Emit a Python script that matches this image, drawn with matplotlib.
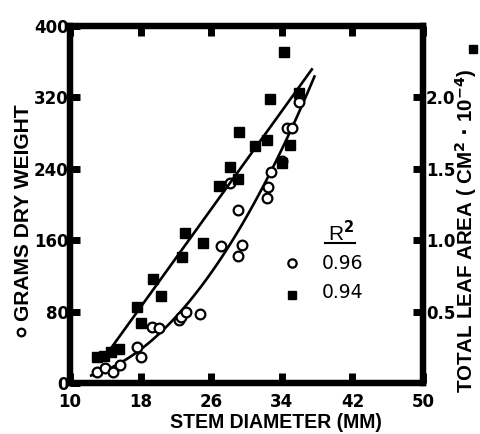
import numpy as np
import matplotlib
matplotlib.use("Agg")
import matplotlib.pyplot as plt

plt.rcParams["font.family"] = ["DejaVu Sans"]
plt.rcParams["font.weight"] = "bold"
LABEL_FONT = ["Liberation Sans Narrow", "Liberation Sans", "DejaVu Sans"]

# === Données ===
# grammes de matière sèche (cercles ouverts, axe gauche)
dw_diam = [13.05, 13.95, 14.86, 15.65, 17.6, 18.1, 19.3, 20.1, 22.3, 22.6, 23.1, 24.7,
           27.1, 28.1, 29.0, 29.0, 29.5, 32.3, 32.4, 32.8, 34.0, 34.6, 35.1, 36.0]
dw_grams = [12, 17, 12, 20, 40, 29, 63, 62, 71, 74, 80, 77,
            153, 224, 142, 194, 155, 207, 220, 236, 249, 286, 286, 315]

# surface foliaire totale (carrés pleins, axe droit, cm2 x 10^-4)
la_diam = [13.05, 13.8, 14.7, 15.5, 17.6, 18.0, 19.4, 20.3, 22.7, 23.0, 25.1, 26.9,
           28.1, 29.0, 29.1, 31.0, 32.3, 32.7, 34.0, 34.3, 34.9, 35.9]
la_area = [0.18, 0.19, 0.22, 0.24, 0.53, 0.42, 0.73, 0.61, 0.88, 1.05, 0.98, 1.38,
           1.51, 1.43, 1.76, 1.66, 1.70, 1.99, 1.54, 2.32, 1.67, 2.03]

r2_dw = "0.96"
r2_la = "0.94"

x_ticks = [10, 18, 26, 34, 42, 50]
y_ticks = [0, 80, 160, 240, 320, 400]
y2_ticks = [0.5, 1.0, 1.5, 2.0]

# === Figure ===
fig = plt.figure(figsize=(4.81, 4.34), dpi=100)
ax = fig.add_axes([70 / 481, 1 - 383 / 434, 353 / 481, 357 / 434])
ax2 = ax.twinx()

ax.set_xlim(10, 50)
ax.set_ylim(0, 400)
ax2.set_ylim(0, 2.5)

# courbes d'ajustement
fit_dw = np.polyfit(dw_diam, dw_grams, 2)
fit_la = np.polyfit(la_diam, la_area, 1)
xx_dw = np.linspace(12.4, 37.7, 100)
xx_la = np.linspace(14.5, 37.4, 100)
ax.plot(xx_dw, np.polyval(fit_dw, xx_dw), color="black", lw=1.9)
ax2.plot(xx_la, np.polyval(fit_la, xx_la), color="black", lw=1.9)

ax.plot(dw_diam, dw_grams, "o", mfc="white", mec="black", mew=1.6, ms=7, ls="none")
ax2.plot(la_diam, la_area, "s", color="black", ms=6.5, ls="none")

for a in (ax, ax2):
    for s in a.spines.values():
        s.set_linewidth(4.5)

ax.set_xticks(x_ticks)
ax.set_yticks(y_ticks)
ax2.set_yticks(y2_ticks)
ax2.set_yticklabels(["0.5", "1.0", "1.5", "2.0"])
ax.tick_params(axis="both", direction="in", length=7, width=5, labelsize=12,
               top=True, right=False)
ax.tick_params(axis="y", pad=1)
ax.tick_params(axis="x", pad=7)
ax2.tick_params(axis="y", direction="in", length=7, width=5, labelsize=12, pad=2)

# titres des axes, taille ajustée à la longueur
renderer = fig.canvas.get_renderer()


def fit_text(t, target_px, vertical=False):
    bb = t.get_window_extent(renderer)
    size = bb.height if vertical else bb.width
    t.set_fontsize(t.get_fontsize() * target_px / size)


xl = fig.text(276 / 481, 1 - 422 / 434, "STEM DIAMETER (MM)", ha="center", va="center",
              fontsize=14, fontweight="bold", family=LABEL_FONT)
fit_text(xl, 213)
yl = fig.text(24 / 481, 1 - 213 / 434, "GRAMS DRY WEIGHT", rotation=90,
              ha="center", va="center", fontsize=14, fontweight="bold", family=LABEL_FONT)
fit_text(yl, 217, vertical=True)
yr = fig.text(466 / 481, 1 - 231 / 434, "TOTAL LEAF AREA ( CM$^{2}$ $\\cdot$ 10$^{-4}$)",
              rotation=90, ha="center", va="center", fontsize=14, fontweight="bold",
              family=LABEL_FONT)
fit_text(yr, 325, vertical=True)

# petits symboles des titres
ax.plot([21 / 481], [1 - 332 / 434], "o", mfc="white", mec="black", mew=1.6, ms=5.5,
        transform=fig.transFigure, clip_on=False)
ax.plot([473 / 481], [1 - 49 / 434], "s", color="black", ms=5.5,
        transform=fig.transFigure, clip_on=False)

# légende R²
ax.text(40.7, 168, "R$^{2}$", fontsize=15, ha="center", va="center",
        family=LABEL_FONT, fontweight="normal")
ax.plot([38.9, 42.3], [157, 157], color="black", lw=1.5)
ax.plot([35.1], [134], "o", mfc="white", mec="black", mew=1.6, ms=6)
ax.text(38.5, 134, r2_dw, fontsize=13.5, va="center", fontweight="normal")
ax.plot([35.1], [99], "s", color="black", ms=6)
ax.text(38.5, 101, r2_la, fontsize=13.5, va="center", fontweight="normal")

fig.savefig("out.png", dpi=100)
